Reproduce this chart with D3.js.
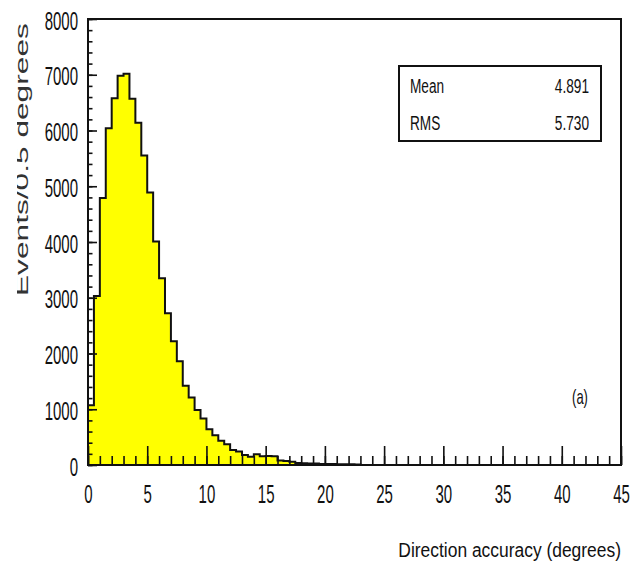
<!DOCTYPE html>
<html>
<head>
    <title>Direction accuracy</title>
    <script src="https://d3js.org/d3.v7.min.js"></script>
    <style>
        body { margin: 0; background: #fff; }
        svg text {
            font-family: "Liberation Sans", Arial, sans-serif;
            fill: #111;
        }
        .bar-fill { fill: #ffff00; }
        .bar-line { fill: none; stroke: #111; stroke-width: 2; }
    </style>
</head>
<body>
    <div id="chart"></div>
    <script>
        // events per 0.5 degree bin, starting at 0 degrees
        const binWidth = 0.5;
        const counts = [
            1070, 3030, 4790, 6040, 6580, 6980, 7020, 6570, 6140, 5550,
            4890, 4010, 3350, 2720, 2220, 1860, 1420, 1210, 985, 835,
            640, 535, 435, 370, 270, 240, 180, 150, 195, 155,
            160, 155, 80, 70, 60, 35, 30, 25, 25, 20,
            20, 18, 15, 15, 12, 10
        ];
        const xMajorTicks = [0, 5, 10, 15, 20, 25, 30, 35, 40, 45];
        const yMajorTicks = [0, 1000, 2000, 3000, 4000, 5000, 6000, 7000, 8000];
        const statNames = ["Mean", "RMS"];
        const statValues = ["4.891", "5.730"];

        const width = 632, height = 575;
        const margin = {top: 19, right: 11, bottom: 110, left: 88};

        var x = d3.scaleLinear().domain([0, 45]).range([margin.left, width - margin.right]);
        var y = d3.scaleLinear().domain([0, 8000]).range([height - margin.bottom, margin.top]);

        var svg = d3.select("#chart").append("svg")
            .attr("width", width)
            .attr("height", height);

        // the original picture is squeezed sideways, so text is drawn narrow
        function narrow(sel, k) {
            sel.each(function() {
                var t = d3.select(this);
                var tx = +t.attr("x") || 0;
                t.attr("x", tx / k).attr("transform", "scale(" + k + ",1)");
            });
        }

        // histogram points: left edge up from zero, one step per bin, then back down
        var points = [{x: 0, v: 0}];
        counts.forEach(function(c, i) { points.push({x: i * binWidth, v: c}); });
        points.push({x: counts.length * binWidth, v: 0});

        var area = d3.area()
            .curve(d3.curveStepAfter)
            .x(function(d) { return x(d.x); })
            .y0(y(0))
            .y1(function(d) { return y(d.v); });

        var line = d3.line()
            .curve(d3.curveStepAfter)
            .x(function(d) { return x(d.x); })
            .y(function(d) { return y(d.v); });

        svg.append("path").attr("class", "bar-fill").attr("d", area(points));
        svg.append("path").attr("class", "bar-line").attr("d", line(points));

        // ticks point into the frame
        var xMinor = svg.append("g")
            .attr("transform", "translate(0," + y(0) + ")")
            .call(d3.axisBottom(x).tickValues(d3.range(0, 46, 1)).tickSize(-9).tickFormat(""));
        var xMajor = svg.append("g")
            .attr("transform", "translate(0," + y(0) + ")")
            .call(d3.axisBottom(x).tickValues(xMajorTicks).tickSize(-19).tickPadding(20).tickFormat(d3.format("d")));
        var yMinor = svg.append("g")
            .attr("transform", "translate(" + x(0) + ",0)")
            .call(d3.axisLeft(y).tickValues(d3.range(0, 8001, 200)).tickSize(-4.5).tickFormat(""));
        var yMajor = svg.append("g")
            .attr("transform", "translate(" + x(0) + ",0)")
            .call(d3.axisLeft(y).tickValues(yMajorTicks).tickSize(-9).tickPadding(10).tickFormat(d3.format("d")));

        [xMinor, xMajor, yMinor, yMajor].forEach(function(g) {
            g.select(".domain").remove();
            g.selectAll("line").attr("stroke", "#111").attr("stroke-width", 1.6);
            g.selectAll("text").style("font-size", "25px").call(narrow, 0.6);
        });
        yMajor.selectAll("text").attr("dy", "0.4em");

        // frame
        svg.append("rect")
            .attr("x", x(0))
            .attr("y", y(8000))
            .attr("width", x(45) - x(0))
            .attr("height", y(0) - y(8000))
            .attr("fill", "none")
            .attr("stroke", "#111")
            .attr("stroke-width", 2);

        // stats box
        var box = svg.append("g").attr("transform", "translate(399,66)");
        box.append("rect")
            .attr("width", 202)
            .attr("height", 75)
            .attr("fill", "#fff")
            .attr("stroke", "#111")
            .attr("stroke-width", 2);
        box.selectAll(".stat-name")
            .data(statNames)
            .enter().append("text")
            .attr("x", 11)
            .attr("y", function(d, i) { return 27 + i * 37; })
            .style("font-size", "21px")
            .text(function(d) { return d; })
            .call(narrow, 0.65);
        box.selectAll(".stat-value")
            .data(statValues)
            .enter().append("text")
            .attr("x", 190)
            .attr("y", function(d, i) { return 27 + i * 37; })
            .style("text-anchor", "end")
            .style("font-size", "21px")
            .text(function(d) { return d; })
            .call(narrow, 0.65);

        svg.append("text")
            .attr("x", 580)
            .attr("y", 404)
            .style("text-anchor", "middle")
            .style("font-size", "20px")
            .text("(a)")
            .call(narrow, 0.65);

        // axis titles
        svg.append("text")
            .attr("x", 621)
            .attr("y", 557)
            .style("text-anchor", "end")
            .style("font-size", "21px")
            .text("Direction accuracy (degrees)")
            .call(narrow, 0.83);

        svg.append("defs").append("clipPath").attr("id", "ytitle-clip")
            .append("rect").attr("x", 17).attr("y", 0).attr("width", 40).attr("height", 400);

        svg.append("g")
            .attr("clip-path", "url(#ytitle-clip)")
            .append("text")
            .attr("transform", "translate(28,296) rotate(-90) scale(1.76,1)")
            .style("font-size", "18px")
            .style("fill", "#333")
            .text("Events/0.5 degrees");
    </script>
</body>
</html>
